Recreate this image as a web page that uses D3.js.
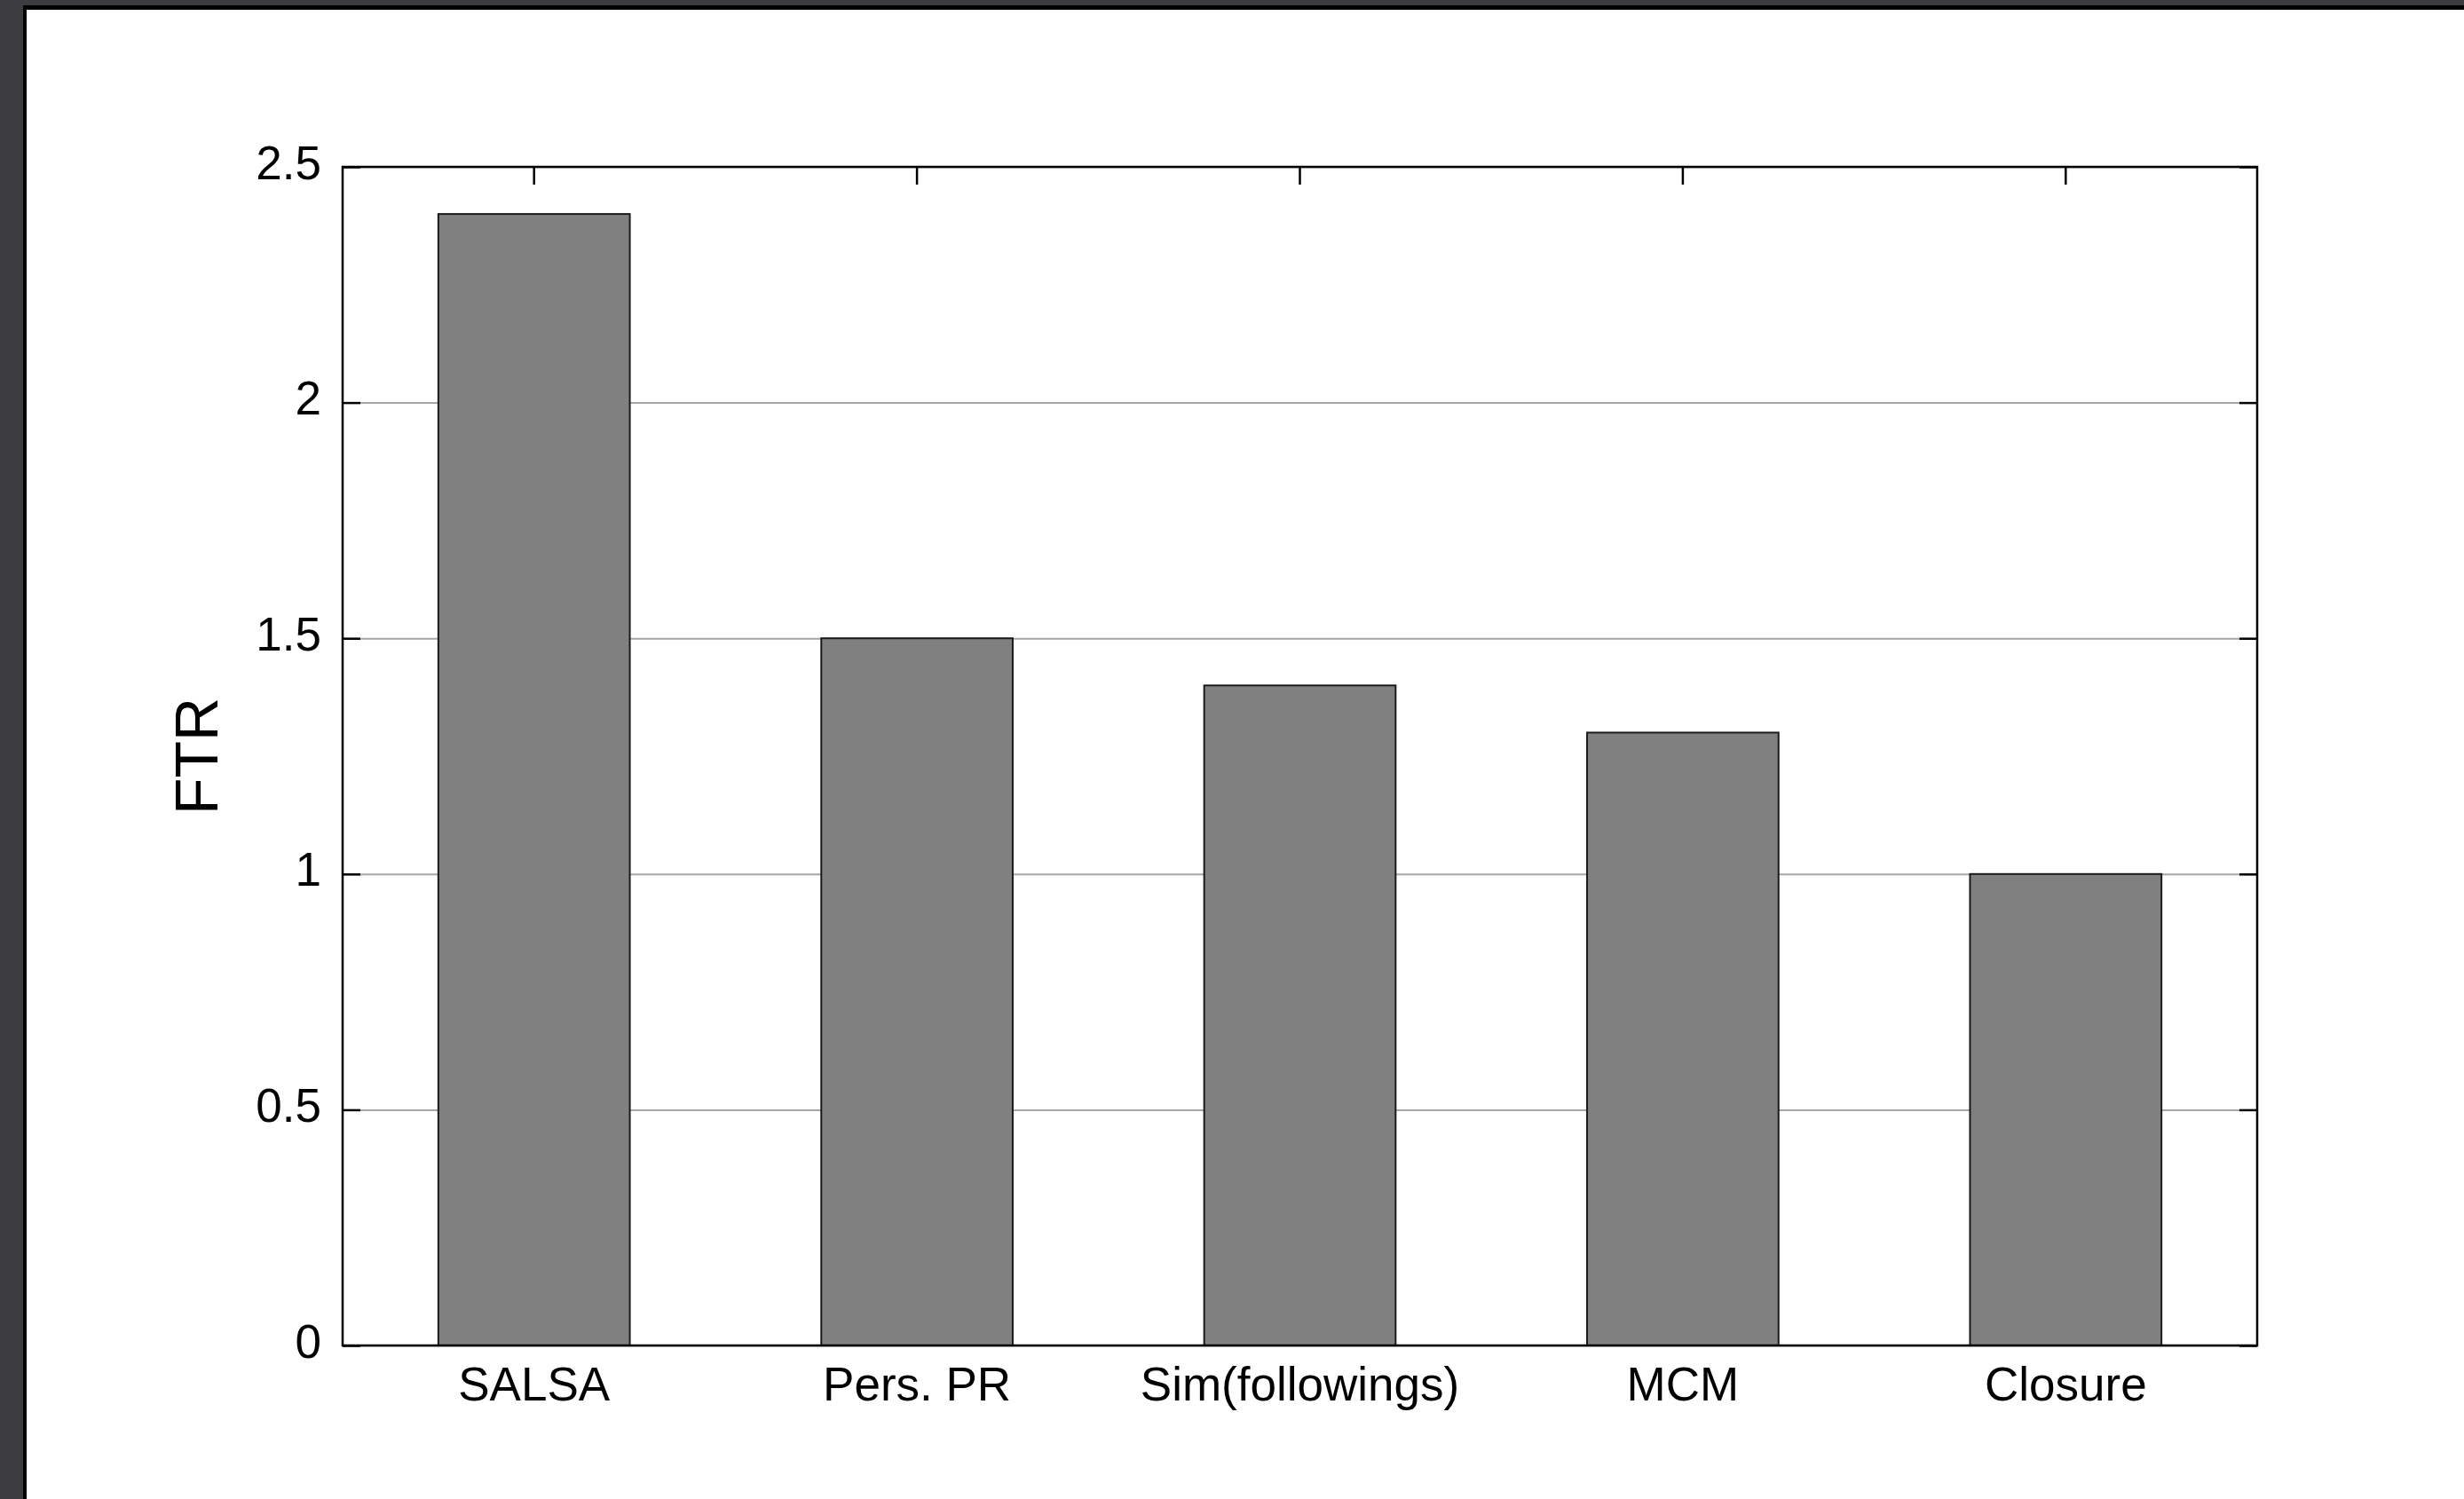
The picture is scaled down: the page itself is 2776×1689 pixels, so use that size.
<!DOCTYPE html>
<html>
<head>
<meta charset="utf-8">
<script src="https://cdn.jsdelivr.net/npm/d3@7"></script>
<style>
  html, body { margin: 0; padding: 0; background: #3c3c41; }
  #page {
    position: absolute; left: 26px; top: 6px;
    width: 2800px; height: 1720px;
    background: #fff; border-left: 4px solid #000; border-top: 5px solid #000;
  }
  svg { position: absolute; left: 0; top: 0; }
  .axis text { font-family: "Liberation Sans", Arial, sans-serif; fill: #000; }
</style>
</head>
<body>
<div id="page"></div>
<svg id="chart" width="2776" height="1689"></svg>
<script>
// data
const methods = ['SALSA', 'Pers. PR', 'Sim(followings)', 'MCM', 'Closure'];
const ftr = [2.4, 1.5, 1.4, 1.3, 1.0];
const yTicks = [0, 0.5, 1, 1.5, 2, 2.5];

// plot frame (page pixels)
const frame = {left: 386, right: 2543, top: 188, bottom: 1516};
const tickLen = 20;

const svg = d3.select('#chart');

const xScale = d3.scaleBand()
    .domain(methods)
    .range([frame.left, frame.right])
    .paddingInner(0.5)
    .paddingOuter(0.25);

const yScale = d3.scaleLinear()
    .domain([0, 2.5])
    .range([frame.bottom, frame.top]);

// grid lines, behind the bars
svg.append('g')
    .attr('transform', `translate(${frame.left}, 0)`)
    .call(d3.axisLeft(yScale).tickValues(yTicks).tickSize(-(frame.right - frame.left)).tickFormat(''))
    .call(g => g.select('.domain').remove())
    .call(g => g.selectAll('line').attr('stroke', '#a6a6a6').attr('stroke-width', 2));

// bars
svg.append('g')
    .selectAll('rect')
    .data(methods)
    .join('rect')
    .attr('x', d => xScale(d))
    .attr('width', xScale.bandwidth())
    .attr('y', (d, i) => yScale(ftr[i]))
    .attr('height', (d, i) => yScale(0) - yScale(ftr[i]))
    .attr('fill', '#808080')
    .attr('stroke', '#1a1a1a')
    .attr('stroke-width', 2);

// left axis with inward ticks
const yAxis = svg.append('g')
    .classed('axis', true)
    .attr('transform', `translate(${frame.left}, 0)`)
    .call(d3.axisLeft(yScale).tickValues(yTicks).tickSizeInner(-tickLen).tickSizeOuter(0).tickPadding(24).tickFormat(d3.format('')))
    .call(g => g.select('.domain').remove())
    .call(g => g.selectAll('line').attr('stroke', '#000').attr('stroke-width', 2.5));
yAxis.selectAll('text')
    .attr('font-size', 53)
    .attr('dy', 13);

// right axis ticks
svg.append('g')
    .attr('transform', `translate(${frame.right}, 0)`)
    .call(d3.axisRight(yScale).tickValues(yTicks).tickSizeInner(-tickLen).tickSizeOuter(0).tickFormat(''))
    .call(g => g.select('.domain').remove())
    .call(g => g.selectAll('line').attr('stroke', '#000').attr('stroke-width', 2.5));

// top axis ticks at category centres
const xCenter = d3.scaleOrdinal()
    .domain(methods)
    .range(methods.map(m => xScale(m) + xScale.bandwidth() / 2));
svg.append('g')
    .attr('transform', `translate(0, ${frame.top})`)
    .call(d3.axisTop(xScale).tickSizeInner(-tickLen).tickSizeOuter(0).tickFormat(''))
    .call(g => g.select('.domain').remove())
    .call(g => g.selectAll('line').attr('stroke', '#000').attr('stroke-width', 2.5));

// bottom labels
const xAxis = svg.append('g')
    .classed('axis', true)
    .attr('transform', `translate(0, ${frame.bottom})`)
    .call(d3.axisBottom(xScale).tickSize(0).tickPadding(0))
    .call(g => g.select('.domain').remove());
xAxis.selectAll('text')
    .attr('font-size', 53)
    .attr('y', 62)
    .attr('dy', 0);

// frame
svg.append('rect')
    .attr('x', frame.left)
    .attr('y', frame.top)
    .attr('width', frame.right - frame.left)
    .attr('height', frame.bottom - frame.top)
    .attr('fill', 'none')
    .attr('stroke', '#000')
    .attr('stroke-width', 2.5);

// y label
svg.append('g')
    .classed('axis', true)
    .append('text')
    .attr('transform', `translate(245, ${(frame.top + frame.bottom) / 2}) rotate(-90)`)
    .attr('text-anchor', 'middle')
    .attr('font-size', 68)
    .text('FTR');
</script>
</body>
</html>
